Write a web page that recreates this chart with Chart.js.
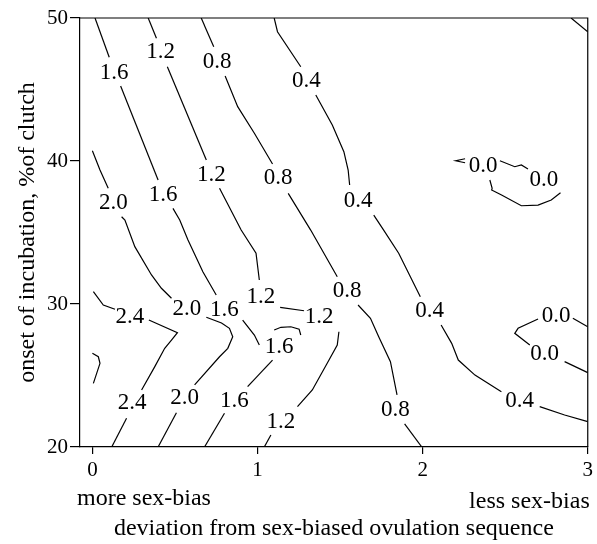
<!DOCTYPE html>
<html><head><meta charset="utf-8">
<script src="https://cdn.jsdelivr.net/npm/chart.js@4"></script>
<style>html,body{margin:0;padding:0;background:#fff}#wrap{width:597px;height:544px}</style>
</head><body><div id="wrap"><canvas id="c" width="597" height="544"></canvas></div>
<script>
const xTicks = [0, 1, 2, 3];
const yTicks = [20, 30, 40, 50];
const xTitle = 'deviation from sex-biased ovulation sequence';
const yTitle = 'onset of incubation, %of clutch';
const leftNote = 'more sex-bias';
const rightNote = 'less sex-bias';

// contour polylines, [x, y] in data units, broken where the labels sit
const c28 = [
  [[0.000,26.55],[0.036,26.31],[0.046,25.85],[0.006,24.45]]
];
const c24 = [
  [[0.006,30.86],[0.066,29.93],[0.137,29.63]],
  [[0.342,28.88],[0.515,27.99],[0.479,27.48],[0.438,26.90],[0.378,25.62],[0.298,23.99]],
  [[0.207,22.01],[0.117,20.00]]
];
const c20 = [
  [[0.000,40.72],[0.046,39.37],[0.096,38.09]],
  [[0.177,36.10],[0.197,35.87],[0.257,34.01],[0.358,32.03],[0.418,31.10],[0.479,30.40]],
  [[0.690,29.07],[0.782,28.67],[0.830,28.30],[0.850,27.71],[0.820,26.90],[0.770,26.31],[0.619,24.34]],
  [[0.509,22.40],[0.398,20.00]]
];
const c16 = [
  [[0.016,50.00],[0.102,47.25]],
  [[0.171,45.24],[0.398,38.67]],
  [[0.488,36.69],[0.529,35.87],[0.579,34.48],[0.669,32.26],[0.750,30.63]],
  [[0.910,28.88],[0.981,27.83],[1.011,27.13]],
  [[1.091,26.08],[0.940,24.22]],
  [[0.800,22.36],[0.679,20.00]],
  [[1.101,28.18],[1.142,28.37],[1.202,28.41],[1.252,28.24],[1.262,27.83]]
];
const c12 = [
  [[0.338,50.00],[0.388,48.58]],
  [[0.454,46.59],[0.690,40.07]],
  [[0.770,38.09],[0.901,35.17],[0.991,33.55],[1.011,31.68]],
  [[1.137,29.77],[1.282,29.53]],
  [[1.493,28.06],[1.483,27.13],[1.433,26.08],[1.332,23.99],[1.242,22.82]],
  [[1.081,20.84],[1.041,20.00]]
];
const c08 = [
  [[0.659,50.00],[0.735,47.99]],
  [[0.804,45.94],[0.880,43.80],[0.981,41.94],[1.091,39.79]],
  [[1.186,37.74],[1.322,35.17],[1.483,31.91]],
  [[1.609,29.93],[1.684,29.00],[1.734,27.71],[1.805,25.97],[1.845,23.64]],
  [[1.891,21.61],[1.995,20.00]]
];
const c04 = [
  [[1.101,50.00],[1.121,49.04],[1.262,46.59]],
  [[1.353,44.62],[1.453,42.52],[1.523,40.65],[1.549,39.37],[1.558,38.32]],
  [[1.704,36.22],[1.764,35.17],[1.855,33.55],[1.986,30.51]],
  [[2.112,28.53],[2.176,27.25],[2.216,26.08],[2.317,25.03],[2.477,23.87]],
  [[2.709,22.82],[2.860,22.24],[3.000,21.77]]
];
const c00 = [
  [[2.899,50.00],[3.000,49.04]],
  [[2.257,40.16],[2.200,40.02],[2.257,39.88]],
  [[2.468,40.02],[2.558,39.60],[2.598,39.72],[2.638,39.44]],
  [[2.407,38.67],[2.421,38.09],[2.418,37.97],[2.478,37.62],[2.598,36.87],[2.699,36.92],[2.779,37.27],[2.835,37.78]],
  [[3.000,28.41],[2.910,29.00]],
  [[2.699,28.95],[2.578,28.30],[2.558,27.95],[2.649,27.13]],
  [[2.860,25.97],[3.000,25.20]]
];

// contour labels: [x, y, text]
const contourLabels = [
  [0.227,29.11,'2.4'],[0.241,23.06,'2.4'],
  [0.127,37.04,'2.0'],[0.573,29.63,'2.0'],[0.559,23.41,'2.0'],
  [0.131,46.17,'1.6'],[0.428,37.62,'1.6'],[0.800,29.58,'1.6'],[1.131,27.01,'1.6'],[0.860,23.22,'1.6'],
  [0.414,47.64,'1.2'],[0.720,39.02,'1.2'],[1.021,30.47,'1.2'],[1.373,29.07,'1.2'],[1.142,21.77,'1.2'],
  [0.756,46.94,'0.8'],[1.125,38.79,'0.8'],[1.543,30.93,'0.8'],[1.835,22.59,'0.8'],
  [1.296,45.62,'0.4'],[1.609,37.22,'0.4'],[2.042,29.53,'0.4'],[2.588,23.24,'0.4'],
  [2.367,39.67,'0.0'],[2.735,38.67,'0.0'],[2.809,29.18,'0.0'],[2.739,26.50,'0.0']
];

const allContours = [c28, c24, c20, c16, c12, c08, c04, c00];
const datasets = [];
allContours.forEach(level => level.forEach(seg => {
  datasets.push({
    data: seg.map(p => ({x: p[0], y: p[1]})),
    showLine: true, borderColor: '#000', borderWidth: 1.2,
    pointRadius: 0, pointHoverRadius: 0, fill: false, tension: 0
  });
}));

const FONT = 'Liberation Serif';

const decor = {
  id: 'decor',
  afterDatasetsDraw(chart) {
    const {ctx, chartArea: a, scales: {x, y}} = chart;
    ctx.save();
    ctx.strokeStyle = '#000';
    ctx.lineWidth = 1.2;
    ctx.beginPath();
    ctx.moveTo(a.left, a.top); ctx.lineTo(a.right, a.top); ctx.lineTo(a.right, a.bottom);
    ctx.stroke();
    ctx.fillStyle = '#000';
    ctx.font = '23px "' + FONT + '"';
    ctx.textAlign = 'center';
    ctx.textBaseline = 'middle';
    contourLabels.forEach(l => {
      ctx.fillText(l[2], x.getPixelForValue(l[0]), y.getPixelForValue(l[1]));
    });
    ctx.font = '24px "' + FONT + '"';
    ctx.textBaseline = 'alphabetic';
    ctx.textAlign = 'left';
    ctx.fillText(leftNote, a.left - 3, a.bottom + 58);
    ctx.textAlign = 'right';
    ctx.fillText(rightNote, a.right + 2, a.bottom + 61);
    ctx.restore();
  }
};

new Chart(document.getElementById('c'), {
  type: 'scatter',
  data: {datasets},
  options: {
    responsive: false,
    animation: false,
    devicePixelRatio: 1,
    layout: {padding: {top: 18, right: 7, left: 0, bottom: 0}},
    plugins: {legend: {display: false}, tooltip: {enabled: false}},
    events: [],
    scales: {
      x: {
        type: 'linear', min: -0.075, max: 3,
        afterBuildTicks: s => { s.ticks = xTicks.map(v => ({value: v})); },
        afterFit: s => { s.height = 97; },
        grid: {drawOnChartArea: false, drawTicks: true, tickLength: 7, color: '#000', lineWidth: 1.2},
        border: {display: true, color: '#000', width: 1.2},
        ticks: {font: {family: FONT, size: 21}, color: '#000', padding: 4, maxRotation: 0, autoSkip: false, callback: v => String(v)},
        title: {display: true, text: xTitle, font: {family: FONT, size: 24}, color: '#000', padding: {top: 0, bottom: 1}}
      },
      y: {
        type: 'linear', min: 20, max: 50,
        afterBuildTicks: s => { s.ticks = yTicks.map(v => ({value: v})); },
        afterFit: s => { s.width = 80; },
        grid: {drawOnChartArea: false, drawTicks: true, tickLength: 10, color: '#000', lineWidth: 1.2},
        border: {display: true, color: '#000', width: 1.2},
        ticks: {font: {family: FONT, size: 21}, color: '#000', padding: 2, autoSkip: false, callback: v => String(v)},
        title: {display: true, text: yTitle, font: {family: FONT, size: 24}, color: '#000', padding: {top: 13, bottom: 0}}
      }
    }
  },
  plugins: [decor]
});
</script>
</body></html>
